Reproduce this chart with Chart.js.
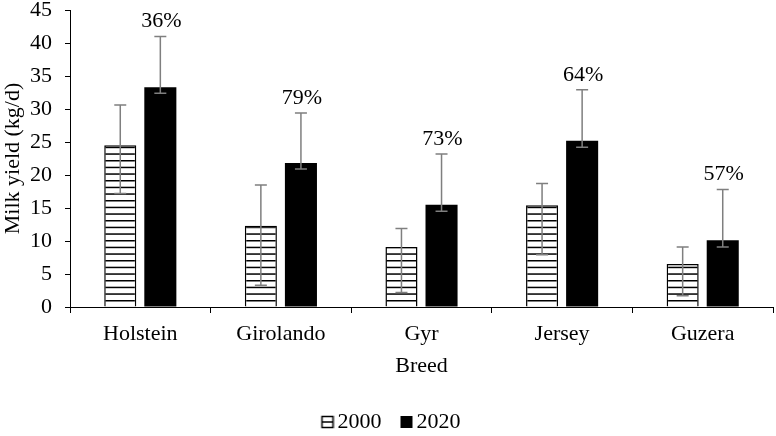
<!DOCTYPE html>
<html>
<head>
<meta charset="utf-8">
<script src="https://cdn.jsdelivr.net/npm/chart.js@4"></script>
<style>
  html, body { margin: 0; padding: 0; background: #fff; }
  #wrap { width: 776px; height: 436px; }
</style>
</head>
<body>
<div id="wrap"><canvas id="milkChart" width="776" height="436"></canvas></div>
<script>
// values (kg/d)
const breeds = ['Holstein', 'Girolando', 'Gyr', 'Jersey', 'Guzera'];
const yield2000 = [24.5, 12.3, 9.1, 15.4, 6.5];
const yield2020 = [33.3, 21.8, 15.5, 25.2, 10.1];
const high2000 = [30.6, 18.5, 11.9, 18.7, 9.1];
const low2000 = [17.2, 3.3, 2.2, 7.9, 1.7];
const high2020 = [41.0, 29.4, 23.2, 32.9, 17.8];
const low2020 = [32.4, 20.9, 14.5, 24.2, 9.1];
const increase = ['36%', '79%', '73%', '64%', '57%'];
const yTicks = [0, 5, 10, 15, 20, 25, 30, 35, 40, 45];

const serif = '"Liberation Serif", "Times New Roman", serif';

// horizontal hatch used for the 2000 bars
function makeStripes() {
    var c = document.createElement('canvas');
    c.width = 8;
    c.height = 20;
    var g = c.getContext('2d');
    g.fillStyle = '#fff';
    g.fillRect(0, 0, 8, 20);
    g.fillStyle = '#000';
    [0, 6.7, 13.3].forEach(y => g.fillRect(0, y, 8, 1.5));
    return g.createPattern(c, 'repeat');
}

// legend glyphs; drawn at the right of a wider canvas so the text sits close
function legendIcon(striped) {
    var c = document.createElement('canvas');
    c.width = 30;
    c.height = 14;
    var g = c.getContext('2d');
    if (striped) {
        g.fillStyle = '#fff';
        g.fillRect(16, 0, 14, 14);
        g.strokeStyle = '#000';
        g.lineWidth = 1.5;
        g.strokeRect(17.5, 1.5, 11, 11);
        g.beginPath();
        g.moveTo(17.5, 7);
        g.lineTo(28.5, 7);
        g.stroke();
    } else {
        g.fillStyle = '#000';
        g.fillRect(17, 1, 12, 12);
    }
    return c;
}

const errorBars = {
    id: 'errorBars',
    afterDatasetsDraw(chart) {
        var ctx = chart.ctx;
        var y = chart.scales.y;
        var ranges = [[low2000, high2000], [low2020, high2020]];
        ctx.save();
        ctx.strokeStyle = '#7f7f7f';
        ctx.lineWidth = 1.5;
        ranges.forEach((r, di) => {
            chart.getDatasetMeta(di).data.forEach((bar, i) => {
                var yLo = y.getPixelForValue(r[0][i]);
                var yHi = y.getPixelForValue(r[1][i]);
                ctx.beginPath();
                ctx.moveTo(bar.x, yLo);
                ctx.lineTo(bar.x, yHi);
                ctx.moveTo(bar.x - 6, yLo);
                ctx.lineTo(bar.x + 6, yLo);
                ctx.moveTo(bar.x - 6, yHi);
                ctx.lineTo(bar.x + 6, yHi);
                ctx.stroke();
            });
        });
        // percentage increase above the 2020 whiskers
        ctx.fillStyle = '#000';
        ctx.font = '22px ' + serif;
        ctx.textAlign = 'center';
        ctx.textBaseline = 'middle';
        chart.getDatasetMeta(1).data.forEach((bar, i) => {
            ctx.fillText(increase[i], bar.x + 1, y.getPixelForValue(high2020[i]) - 15);
        });
        ctx.restore();
    }
};

var ctx = document.getElementById('milkChart').getContext('2d');
var milkChart = new Chart(ctx, {
    type: 'bar',
    data: {
        labels: breeds,
        datasets: [
            {
                label: '2000',
                data: yield2000,
                backgroundColor: makeStripes(),
                borderColor: '#000',
                borderWidth: 1.5,
                categoryPercentage: 0.57,
                barPercentage: 0.8
            },
            {
                label: '2020',
                data: yield2020,
                backgroundColor: '#000',
                borderColor: '#000',
                borderWidth: 0,
                categoryPercentage: 0.57,
                barPercentage: 0.8
            }
        ]
    },
    options: {
        responsive: false,
        animation: false,
        layout: { padding: { top: 0, right: 3, left: 0, bottom: -7 } },
        plugins: {
            tooltip: { enabled: false },
            legend: {
                position: 'bottom',
                labels: {
                    usePointStyle: true,
                    boxWidth: 14,
                    boxHeight: 14,
                    color: '#000',
                    font: { family: serif, size: 22 },
                    padding: 10,
                    generateLabels: chart => chart.data.datasets.map((ds, i) => ({
                        text: ds.label,
                        pointStyle: legendIcon(i === 0),
                        fillStyle: '#000',
                        strokeStyle: '#000',
                        lineWidth: 0,
                        hidden: false,
                        datasetIndex: i
                    }))
                }
            }
        },
        scales: {
            x: {
                grid: { drawOnChartArea: false, offset: true, tickLength: 6, color: '#000' },
                border: { color: '#000', width: 1 },
                ticks: { color: '#000', font: { family: serif, size: 22 }, padding: 8 },
                title: { display: true, text: 'Breed', color: '#000', font: { family: serif, size: 22 }, padding: { top: 2, bottom: 22 } },
                afterFit: s => { s.height = 94; }
            },
            y: {
                min: 0,
                max: 45,
                afterBuildTicks: s => { s.ticks = yTicks.map(v => ({ value: v })); },
                grid: { drawOnChartArea: false, tickLength: 5, color: '#000' },
                border: { color: '#000', width: 1 },
                ticks: { color: '#000', font: { family: serif, size: 22 }, padding: 13 },
                title: { display: true, text: 'Milk yield (kg/d)', color: '#000', font: { family: serif, size: 22 }, padding: { top: 0, bottom: 2 } },
                afterFit: s => { s.width = 70; s.paddingTop = 10; s.paddingBottom = 0; }
            }
        }
    },
    plugins: [errorBars]
});
</script>
</body>
</html>
